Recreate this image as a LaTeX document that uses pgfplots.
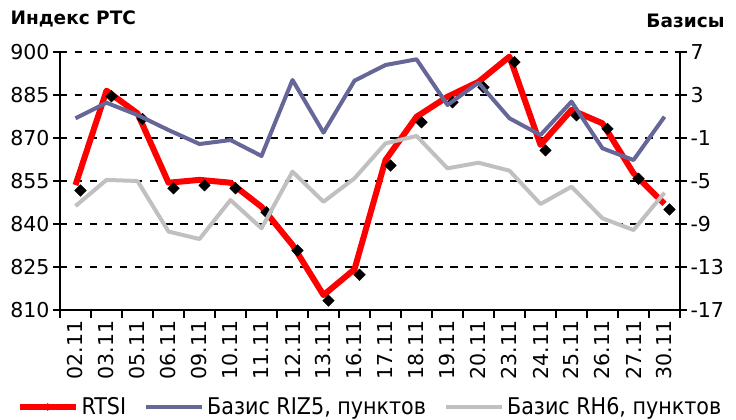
\documentclass[border=0pt]{standalone}
\usepackage{fontspec}
\setmainfont{DejaVu Sans}
\newfontfamily\condfont{DejaVu Sans Condensed}
\usepackage{pgfplots}
\usepackage{pgfplotstable}
\pgfplotsset{compat=1.18}
\definecolor{rtsi}{HTML}{FF0000}
\definecolor{riz}{HTML}{666699}
\definecolor{rh}{HTML}{C0C0C0}
\pgfplotstableread{
x r riz rh
0 853.6 0.83 -7.33
1 886.5 2.28 -4.90
2 878.6 1.14 -5.00
3 854.4 -0.26 -9.70
4 855.4 -1.56 -10.40
5 854.4 -1.19 -6.77
6 846.0 -2.67 -9.40
7 832.7 4.40 -4.13
8 815.2 -0.50 -6.93
9 824.2 4.33 -4.75
10 862.3 5.79 -1.50
11 877.4 6.32 -0.81
12 884.4 2.07 -3.82
13 889.6 4.15 -3.30
14 898.4 0.83 -4.04
15 867.6 -0.72 -7.14
16 879.8 2.38 -5.53
17 875.1 -1.96 -8.47
18 857.7 -3.05 -9.56
19 847.0 0.98 -6.09
}\data
\begin{document}
\begin{tikzpicture}
\path[use as bounding box] (-60bp,-110bp) rectangle (676bp,310bp);
\pgfplotsset{
  base/.style={
    at={(0,0)}, anchor=south west,
    scale only axis, width=620bp, height=258bp,
    xmin=-0.5, xmax=19.5,
    font=\fontsize{20.5bp}{24bp}\selectfont,
    tick align=outside,
    major tick length=7bp,
    minor tick length=8bp,
    every tick/.style={black, line width=2bp},
    axis line style={black, line width=2bp, -},
    clip=false,
  }
}
\begin{axis}[base,
  axis x line*=bottom, axis y line*=left,
  ymin=810, ymax=900,
  ytick={810,825,...,900},
  yticklabels={810,825,840,855,870,885,900},
  xtick={0,...,19},
  xticklabels={02.11,03.11,05.11,06.11,09.11,10.11,11.11,12.11,13.11,16.11,17.11,18.11,19.11,20.11,23.11,24.11,25.11,26.11,27.11,30.11},
  xticklabel style={rotate=90, anchor=east},
  minor xtick={-0.5,0.5,...,19.5},
  major x tick style={draw=none},
  minor x tick style={black, line width=2bp},
  ymajorgrids,
  major grid style={black, line width=2bp, dash pattern=on 7.5bp off 7.5bp},
]
\addplot[draw=none, mark=square*, mark size=4.1bp,
  mark options={xshift=5bp, yshift=-5.5bp, rotate=45, fill=black, draw=black}]
  table[x=x, y=r]{\data};
\addplot[rtsi, line width=6bp, no marks, line join=round] table[x=x, y=r]{\data};
\end{axis}
\begin{axis}[base,
  axis x line=none, axis y line*=right,
  ymin=-17, ymax=7,
  ytick={-17,-13,...,7},
  yticklabels={-17,-13,-9,-5,-1,3,7},
  legend columns=3,
  legend style={at={(0.5,-0.376)}, anchor=center, draw=none, fill=none,
    font=\condfont\fontsize{23bp}{26bp}\selectfont,
    /tikz/every even column/.append style={column sep=16bp},
    /tikz/every odd column/.append style={column sep=1bp}},
  legend image code/.code={\draw[mark repeat=2, mark phase=2, #1] plot coordinates {(0bp,0bp) (28bp,0bp) (56bp,0bp)};},
]
\addlegendimage{rtsi, line width=6bp, mark=square*, mark size=2.5bp, mark options={rotate=45, fill=rtsi, draw=rtsi, line width=0.5bp}}
\addlegendentry{RTSI}
\addplot[riz, line width=4bp, no marks, line join=round] table[x=x, y=riz]{\data};
\addlegendentry{Базис RIZ5, пунктов}
\addplot[rh, line width=4bp, no marks, line join=round] table[x=x, y=rh]{\data};
\addlegendentry{Базис RH6, пунктов}
\end{axis}
\node[anchor=base west, font=\bfseries\fontsize{18.5bp}{22bp}\selectfont] at (-53bp,285bp) {Индекс РТС};
\node[anchor=base east, font=\bfseries\fontsize{18.5bp}{22bp}\selectfont] at (668bp,282bp) {Базисы};
\end{tikzpicture}
\end{document}
